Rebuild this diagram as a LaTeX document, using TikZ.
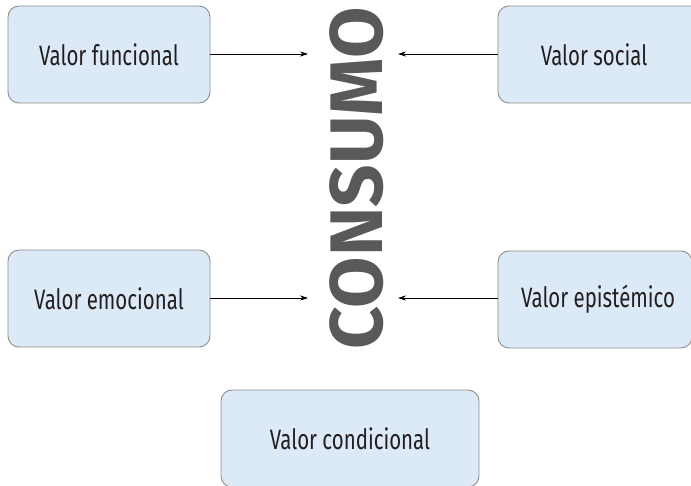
\documentclass[tikz,border=0pt]{standalone}
\usepackage{fontspec}
\setmainfont[FakeStretch=0.73]{Fira Sans}
\newfontfamily\bigfont{Fira Sans}
\usetikzlibrary{arrows.meta}
\definecolor{boxfill}{HTML}{DCE9F6}
\definecolor{boxline}{HTML}{8E8E8E}
\definecolor{bigtext}{HTML}{58595B}
\definecolor{txt}{HTML}{231F20}
\begin{document}
\begin{tikzpicture}[x=1pt,y=-1pt,
  valbox/.style={draw=boxline,fill=boxfill,line width=0.9pt,rounded corners=11pt,
    minimum width=202pt,minimum height=97pt,inner sep=0pt,font=\fontsize{28}{30}\selectfont,text=txt},
  arr/.style={-{Stealth[length=8pt,width=5pt]},line width=0.6pt}]
\useasboundingbox (0,0) rectangle (691,486);
\clip (0,0) rectangle (691,486);
\node[valbox] (fun) at (109,54.5) {Valor funcional};
\node[valbox,minimum width=204pt] (soc) at (600,54.5) {\hspace*{-12pt}Valor social};
\node[valbox] (emo) at (109,298.5) {Valor emocional};
\node[valbox,minimum width=194pt] (epi) at (595,299.5) {\hspace*{6pt}Valor epistémico};
\node[valbox,minimum width=258pt] (cond) at (350,438.5) {Valor condicional};
\node[rotate=90,inner sep=0pt,text=bigtext,font=\bigfont\bfseries\fontsize{74.5}{75}\selectfont] (cons) at (357,178.5) {CONSUMO};
\coordinate (t1) at (308,54);
\coordinate (t2) at (398,54);
\coordinate (t3) at (308,298);
\coordinate (t4) at (398,298);
\draw[arr] (fun.east |- t1) -- (t1);
\draw[arr] (soc.west |- t2) -- (t2);
\draw[arr] (emo.east |- t3) -- (t3);
\draw[arr] (epi.west |- t4) -- (t4);
\end{tikzpicture}
\end{document}
